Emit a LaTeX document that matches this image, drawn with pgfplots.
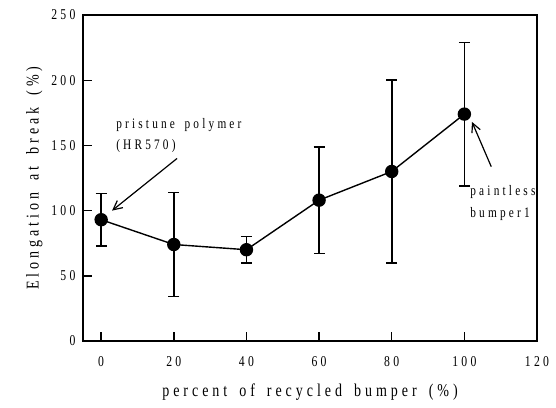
\documentclass[border=0pt]{standalone}
\usepackage{pgfplots}
\pgfplotsset{compat=1.18}
\usepackage{fontspec}
\setmainfont{Liberation Serif}[FakeStretch=0.78,LetterSpace=22,WordSpace=1.6]
\usetikzlibrary{arrows.meta}
\begin{document}
\begin{tikzpicture}[x=1pt,y=1pt]
\path (0,0) rectangle (556,407);
\begin{axis}[
  at={(83pt,66pt)}, anchor=south west,
  scale only axis, width=454pt, height=326pt,
  xmin=-5, xmax=120, ymin=0, ymax=250,
  xtick={0,20,...,120}, ytick={0,50,...,250},
  axis line style={line width=1.4pt},
  major tick length=9pt,
  tick style={line width=1.4pt, black},
  xtick pos=bottom, ytick pos=left,
  tick align=inside,
  ticklabel style={font=\fontsize{15}{15}\selectfont},
  /pgf/number format/assume math mode=true,
  xticklabel style={yshift=-12pt},
  yticklabel style={xshift=-4pt},
  xlabel={percent of recycled bumper (\%)},
  ylabel={Elongation at break (\%)},
  label style={font=\fontsize{18}{18}\selectfont},
  xlabel style={yshift=-10pt},
  ylabel style={yshift=2pt},
  clip=false,
]
\addplot+[black, line width=1.4pt, mark=*, mark size=6pt,
  mark options={fill=black, solid},
  error bars/.cd, y dir=both, y explicit,
  error bar style={line width=1.6pt, black},
  error mark options={rotate=90, mark size=5.5pt, line width=1.6pt, black}]
coordinates {
 (0,93)   +- (0,20)
 (20,74)  += (0,40) -= (0,40)
 (40,70)  += (0,10) -= (0,10)
 (60,108) += (0,41) -= (0,41)
 (80,130) += (0,70) -= (0,70)
 (100,174) += (0,55) -= (0,55)
};
\draw[line width=1.2pt, -{Straight Barb[length=9pt,width=9pt,line width=1.2pt]}] (axis cs:20.9,140) -- (axis cs:3,100);
\draw[line width=1.2pt, -{Straight Barb[length=9pt,width=9pt,line width=1.2pt]}] (axis cs:107.4,133.7) -- (axis cs:102.1,168);
\node[anchor=west, inner sep=0pt, font=\fontsize{14.5}{14.5}\selectfont] at (axis cs:4.1,166) {pristune polymer};
\node[anchor=west, inner sep=0pt, font=\fontsize{14.5}{14.5}\selectfont] at (axis cs:4.1,149.5) {(HR570)};
\node[anchor=west, inner sep=0pt, font=\fontsize{14.5}{14.5}\selectfont] at (axis cs:101.6,114) {paintless};
\node[anchor=west, inner sep=0pt, font=\fontsize{14.5}{14.5}\selectfont] at (axis cs:101.6,97.4) {bumper1};
\end{axis}
\end{tikzpicture}
\end{document}
